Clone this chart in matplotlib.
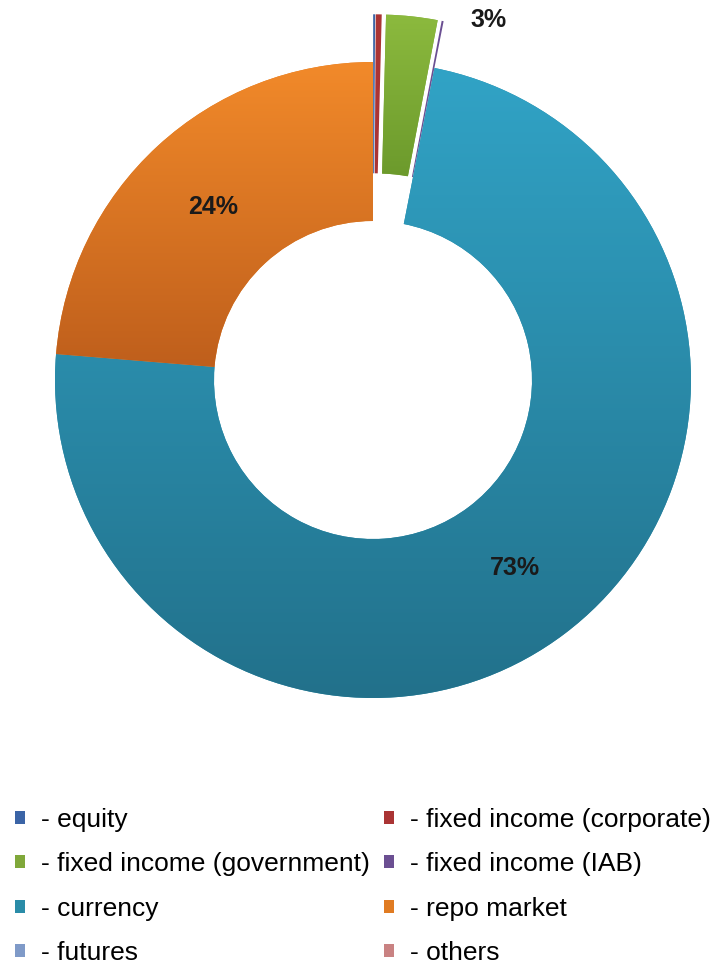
import matplotlib.pyplot as plt
import numpy as np
from matplotlib.colors import LinearSegmentedColormap
from matplotlib.patches import Patch

# share of trading volume by market segment, %
categories = ['equity', 'fixed income (corporate)', 'fixed income (government)',
              'fixed income (IAB)', 'currency', 'repo market', 'futures', 'others']
shares = [0.1, 0.3, 2.6, 0.1, 73.2, 23.7, 0.0, 0.0]
labelled = ['fixed income (government)', 'currency', 'repo market']

colors = ['#3b64a6', '#aa3434', '#80a83a', '#6b4f92', '#2a8ca8', '#e07b22', '#7f9ac8', '#c98282']
# top / bottom gradient colours of the visible slices
gradients = {
    'fixed income (government)': ('#8cba3e', '#6c9a2c'),
    'currency': ('#31a3c6', '#22718b'),
    'repo market': ('#f28a2a', '#bf5f1c'),
}

plt.rcParams['font.family'] = ['Liberation Sans', 'DejaVu Sans']

W, H = 721, 972
fig = plt.figure(figsize=(W / 100, H / 100), dpi=100)
cx, cy, R = 373, 380, 318
top_px = 760
ax = fig.add_axes([0, (H - top_px) / H, 1, top_px / H])

explode = [0.15 if s < 5 else 0 for s in shares]
wedges, _ = ax.pie(shares, colors=colors, startangle=90, counterclock=False,
                   explode=explode, radius=1,
                   wedgeprops=dict(width=0.5, edgecolor='none'))

for w, name in zip(wedges, categories):
    if name not in gradients:
        continue
    top, bot = gradients[name]
    ext = w.get_path().get_extents()
    cmap = LinearSegmentedColormap.from_list(name, [bot, top])
    grad = np.linspace(0, 1, 256)[:, None]
    im = ax.imshow(grad, cmap=cmap, origin='lower', aspect='auto',
                   extent=[ext.x0, ext.x1, ext.y0, ext.y1], zorder=2)
    im.set_clip_path(w)

# percentage labels
total = sum(shares)
for w, name, s in zip(wedges, categories, shares):
    if name not in labelled:
        continue
    if s < 5:
        ang = np.deg2rad(min(w.theta1, w.theta2) - 7)
        r = 1.19
    else:
        ang = np.deg2rad((w.theta1 + w.theta2) / 2)
        r = 0.74
    ax.text(r * np.cos(ang), r * np.sin(ang), f'{s / total * 100:.0f}%',
            ha='center', va='center', fontsize=18, fontweight='bold',
            color='#1a1a1a', zorder=5)

ax.set_xlim(-cx / R, (W - cx) / R)
ax.set_ylim(-(top_px - cy) / R, cy / R)
ax.set_aspect('equal')
ax.axis('off')

# legend, row by row
order = [0, 2, 4, 6, 1, 3, 5, 7]
handles = [Patch(facecolor=colors[i], edgecolor='none') for i in order]
labels = ['- ' + categories[i] for i in order]
fig.legend(handles, labels, ncol=2, loc='upper left', bbox_to_anchor=(7 / W, 1 - 800 / H),
           frameon=False, fontsize=19, handlelength=0.38, handleheight=0.38,
           handletextpad=0.62, columnspacing=0.52, labelspacing=0.77, borderaxespad=0.0,
           borderpad=0.3)

fig.savefig('out.png', dpi=100)
